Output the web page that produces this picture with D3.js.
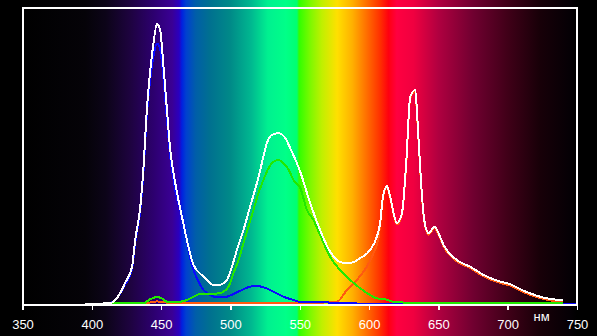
<!DOCTYPE html>
<html>
<head>
<meta charset="utf-8">
<script src="https://cdn.jsdelivr.net/npm/d3@7"></script>
<style>
html,body{margin:0;padding:0;background:#000;}
svg{display:block;}
</style>
</head>
<body>
<script>
// ---- data ----
const xTicks = [350, 400, 450, 500, 550, 600, 650, 700, 750];
const unitLabel = "нм";

const whiteNm  = [395, 413, 420.5, 424, 429, 431.3, 435, 437.3, 439.7, 442, 444.5, 447, 449.3, 451.7, 454.2, 456.6, 460.2, 465, 469.7, 473.4, 480.6, 487.8, 491.4, 497.4, 501, 504.7, 509.4, 514.2, 519.1, 523.8, 526.3, 529.9, 534.7, 539.5, 543.1, 550.3, 557.5, 564.7, 571.9, 580.4, 587.6, 593.6, 600.8, 605.6, 608, 610, 612.9, 615.2, 620.1, 623.7, 626.8, 629.7, 633.3, 634.9, 637.4, 639.8, 642.9, 647.2, 650.1, 653.7, 663.4, 673, 682.5, 694.6, 701.8, 709, 716.2, 723.4, 730.6, 737.8, 740.2];
const whiteVal = [0, 0.3, 3.9, 7.5, 13.3, 22.9, 34.8, 49, 69.3, 82.5, 93.2, 100, 97.9, 84.8, 69.3, 55, 43.2, 31.2, 20.5, 13.9, 9.8, 6.8, 6.8, 8.6, 13.3, 19.3, 26.4, 34.8, 43.2, 52.6, 57.5, 60.4, 61, 59.3, 55.7, 47.3, 36.1, 26.4, 18.7, 14.8, 14.8, 16.4, 19.3, 24, 28.9, 38.3, 42.1, 38.3, 28.9, 32.4, 50.3, 74, 76.4, 65.7, 44.3, 30, 25.3, 27.6, 25.3, 21.1, 15.7, 13.3, 10.4, 8, 7.1, 5.3, 3.8, 2.6, 1.8, 1.4, 1.2];

const blueNm  = [413, 420, 424, 429, 431.3, 435, 437.3, 439.7, 442, 444.5, 447, 449.3, 451.7, 454.2, 456.6, 460.2, 466.1, 469.7, 472.2, 475.8, 480.6, 485.4, 490.2, 497.4, 502.2, 508.3, 514.2, 519.1, 523.8, 531.1, 538.3, 545.5, 550.3, 559.7, 582.8, 620, 700, 750];
const blueVal = [0, 3.3, 6.8, 12.6, 21.8, 33.6, 47.5, 67.5, 79.5, 88.5, 93, 91, 80.5, 66, 52.5, 40.5, 29.4, 19.3, 13.9, 9.2, 5, 3.2, 2.4, 2.6, 3.6, 5, 6.2, 6.4, 6, 4.4, 2.6, 1.4, 0.8, 0.8, 0.2, 0.1, 0.1, 0.1];

const greenNm  = [413, 430, 437.3, 442.1, 447, 450.6, 454.2, 458.9, 463.8, 468.6, 474.6, 478.2, 485.4, 491.4, 495, 498.6, 502.2, 505.8, 509.4, 513, 516.6, 520.2, 523.8, 527.5, 531.1, 534.7, 538.3, 542, 545.5, 550.3, 555.2, 559.9, 564.7, 571.9, 579.1, 586.3, 593.6, 600.8, 605.6, 610.4, 615.2, 618.8, 636.8, 690, 740];
const greenVal = [0.2, 0.2, 0.3, 1.7, 2.5, 2, 0.8, 0.6, 0.8, 1.4, 2.9, 3.6, 3.6, 3.8, 4.4, 6.2, 11, 15.7, 21.7, 27.6, 33.6, 39.5, 44.3, 48.5, 50.8, 51.4, 50.3, 47.9, 44.3, 41.5, 33.6, 30, 24.6, 16.9, 12.1, 8.6, 5.6, 3.2, 2, 1.8, 1.1, 0.6, 0.45, 0.5, 0.5];

const redNm  = [422, 440, 444, 447, 451, 456, 500, 550, 576.8, 584, 591.2, 598.4, 603.2, 606.8, 608, 610, 612.9, 615.2, 620.1, 623.7, 626.8, 629.7, 633.3, 634.9, 637.4, 639.8, 642.9, 647.2, 650.1, 653.7, 663.4, 673, 682.5, 694.6, 701.8, 709, 716.2, 723.4, 730.6, 737.8, 740.2];
const redVal = [0.3, 0.3, 0.8, 0.9, 0.8, 0.3, 0.3, 0.3, 0.8, 5, 8.6, 13.3, 18.1, 23.6, 28.4, 37.8, 41.6, 37.8, 28.4, 31.9, 49.8, 73.5, 75.9, 65.2, 43.8, 29.5, 24.8, 27.1, 24.8, 20.6, 15.2, 12.8, 9.9, 7.5, 6.6, 4.8, 3.3, 2.1, 1.3, 0.9, 0.7];

// spectrum background stops (wavelength, colour)
const bgNm  = [350, 395, 410, 428, 445, 458, 463, 465, 468, 475, 485, 500, 515, 527, 540, 548, 549.5, 558, 566, 577, 588, 598, 608, 614, 620, 632, 650, 675, 700, 723, 745, 750];
const bgCol = ["#000000", "#050308", "#0c0418", "#1e0340", "#2d0070", "#3a0095", "#2a00c0", "#0020e0", "#0040d0", "#005ea8", "#007090", "#008a88", "#00b890", "#00f090", "#00ff88", "#00ff70", "#30ff00", "#80f800", "#c0f000", "#ffe000", "#ffb000", "#ff7000", "#ff3000", "#ff0010", "#ff0040", "#f00040", "#b00040", "#700030", "#400018", "#180008", "#050005", "#000000"];

// ---- chart ----
const W = 597, H = 336;
const svg = d3.select("body").append("svg").attr("width", W).attr("height", H);

const x = d3.scaleLinear().domain([350, 750]).range([22.5, 577]);
const y = d3.scaleLinear().domain([0, 100]).range([304, 24]);

const defs = svg.append("defs");
const grad = defs.append("linearGradient").attr("id", "spec")
  .attr("gradientUnits", "userSpaceOnUse")
  .attr("x1", x(350)).attr("x2", x(750)).attr("y1", 0).attr("y2", 0);
grad.selectAll("stop").data(bgNm).join("stop")
  .attr("offset", d => (d - 350) / 400)
  .attr("stop-color", (d, i) => bgCol[i]);

svg.append("rect").attr("width", W).attr("height", H).attr("fill", "#000");
svg.append("rect").attr("x", x(350)).attr("width", x(750) - x(350)).attr("y", 0).attr("height", H).attr("fill", "url(#spec)");

const line = d3.line().x(d => x(d[0])).y(d => y(d[1])).curve(d3.curveMonotoneX);
const zip = (a, b) => a.map((v, i) => [v, b[i]]);

const series = [
  {nm: redNm, val: redVal, color: "#ff5a10"},
  {nm: blueNm, val: blueVal, color: "#0a0aff"},
  {nm: greenNm, val: greenVal, color: "#22e800"},
  {nm: whiteNm, val: whiteVal, color: "#ffffff"}
];
series.forEach(s => {
  svg.append("path").datum(zip(s.nm, s.val))
    .attr("d", line)
    .attr("fill", "none")
    .attr("stroke", s.color)
    .attr("stroke-width", 2)
    .attr("shape-rendering", "crispEdges");
});

// border
svg.append("rect")
  .attr("x", x(350)).attr("y", 8)
  .attr("width", x(750) - x(350)).attr("height", 304.5 - 8)
  .attr("fill", "none").attr("stroke", "#fff").attr("stroke-width", 2)
  .attr("shape-rendering", "crispEdges");

// axis
const axis = svg.append("g").attr("transform", "translate(0,305)")
  .call(d3.axisBottom(x).tickValues(xTicks).tickSize(5).tickFormat(d3.format("d")));
axis.select(".domain").remove();
axis.selectAll(".tick line").attr("stroke", "#fff").attr("stroke-width", 1.5).attr("shape-rendering", "crispEdges");
axis.selectAll(".tick text")
  .attr("fill", "#fff").attr("y", 24).attr("dy", 0)
  .style("font-family", "'Liberation Sans', Arial, sans-serif").style("font-size", "13px");

svg.append("text").attr("x", 533.5).attr("y", 321)
  .attr("fill", "#fff")
  .style("font-family", "'Liberation Sans', Arial, sans-serif").style("font-size", "13px")
  .text(unitLabel);
</script>
</body>
</html>
